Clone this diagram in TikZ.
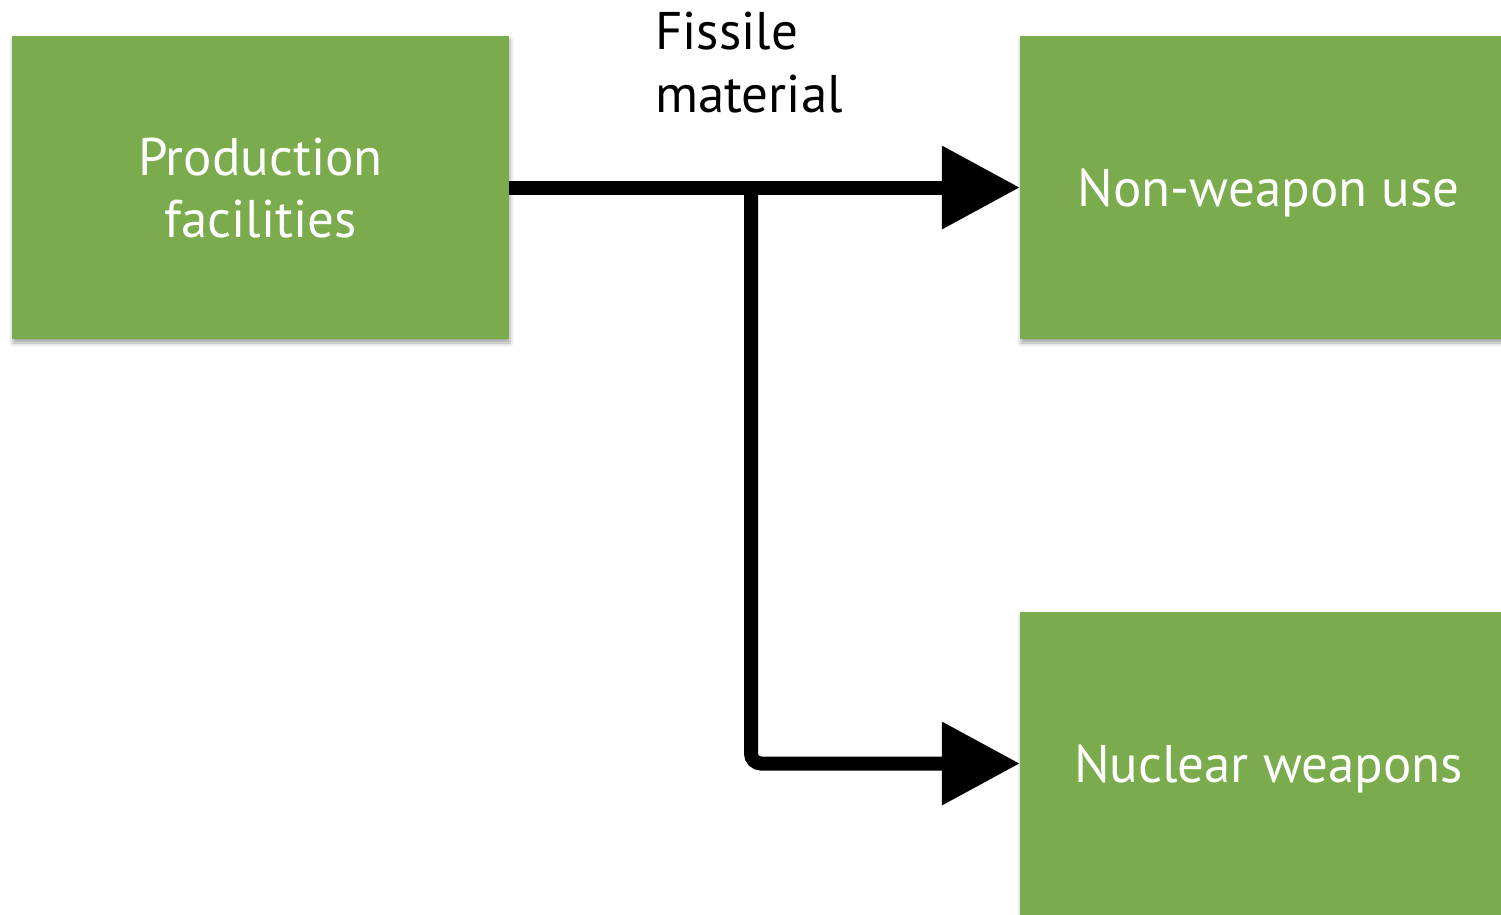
\documentclass[tikz,border=0pt]{standalone}
\usepackage{fontspec}
\setmainfont{PT Sans}
\usetikzlibrary{arrows.meta,shadows.blur}
\definecolor{boxgreen}{HTML}{7AAB4C}
\begin{document}
\begin{tikzpicture}[x=1pt,y=-1pt,
  box/.style={fill=boxgreen, draw=none, minimum width=497pt, minimum height=303pt,
    inner sep=0pt, text=white, align=center, text depth=0pt, font=\fontsize{53}{62.5}\selectfont,
    blur shadow={shadow xshift=1pt, shadow yshift=-4pt, shadow blur radius=4pt, shadow opacity=35}},
  lbl/.style={inner sep=0pt, align=left, text=black, font=\fontsize{53}{62.5}\selectfont},
  flow/.style={line width=14pt, -{Triangle[length=78pt,width=80pt]}, rounded corners=10pt,
    preaction={draw=black!60, opacity=0.3, transform canvas={shift={(1.5pt,-3pt)}}}}]
\useasboundingbox (0,0) rectangle (1501,914);
\clip (0,0) rectangle (1501,914);
\node[box] (prod) at (260.5,187.5) {Production\\facilities};
\node[box] (nonw) at (1268.5,187.5) {Non-weapon use};
\node[box] (nuc) at (1268.5,763.5) {Nuclear weapons};
\node[lbl, anchor=north west] (fis) at (655,12) {Fissile\\material};
\coordinate (j) at (751,187.5);
\draw[flow] (j) |- (nuc.west);
\draw[flow] (prod.east) -- (nonw.west);
\end{tikzpicture}
\end{document}
